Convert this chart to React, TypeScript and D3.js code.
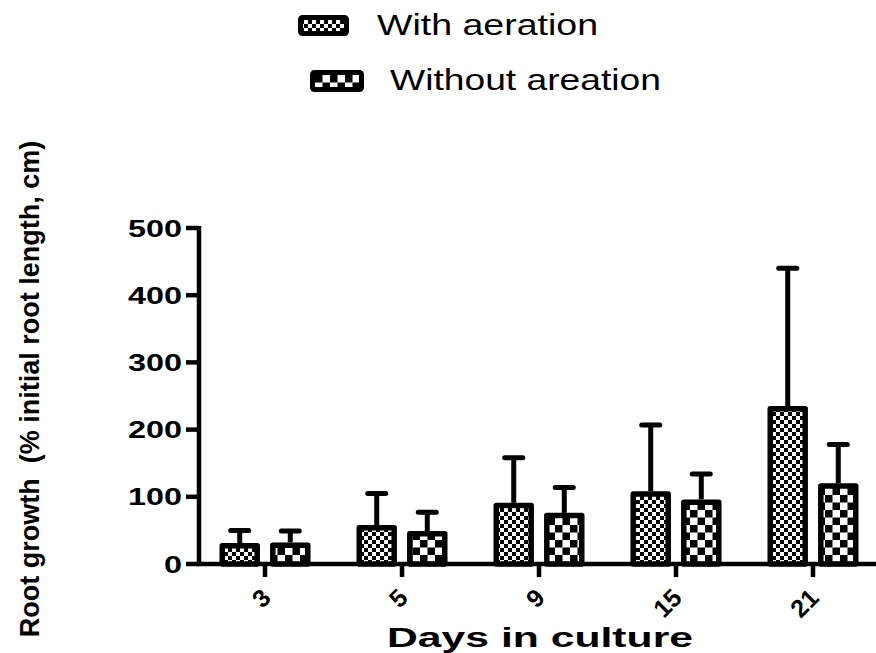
import React from "react";
import * as d3 from "d3";

/* days in culture (x categories) */
const DAYS = ["3", "5", "9", "15", "21"];
const SERIES = ["With aeration", "Without areation"];

/* mean root growth (% initial root length) */
const WITH_MEAN = [27, 54, 87, 104, 231];
const WITHOUT_MEAN = [28, 45, 72, 92, 116];
/* upper error (SD) */
const WITH_SD = [23, 51, 71, 103, 209];
const WITHOUT_SD = [21, 32, 42, 42, 62];

const Y_TICKS = [0, 100, 200, 300, 400, 500];

const W = 876;
const H = 653;
const FONT = "'Liberation Sans', Arial, sans-serif";

export default function App() {
  /* ---- scales ---- */
  const y = d3.scaleLinear().domain([0, 500]).range([564, 228]);
  const x0 = d3.scaleBand<string>().domain(DAYS).range([196.5, 881.5]).padding(0);
  const bw = x0.bandwidth();
  const x1 = d3
    .scaleBand<string>()
    .domain(SERIES)
    .range([bw / 2 - 45.5, bw / 2 + 45.5])
    .paddingInner(0.2);

  const means = [WITH_MEAN, WITHOUT_MEAN];
  const sds = [WITH_SD, WITHOUT_SD];
  const fills = ["url(#fine)", "url(#coarse)"];

  const bars = DAYS.flatMap((day, i) =>
    SERIES.map((s, k) => ({
      day,
      s,
      k,
      x: (x0(day) ?? 0) + (x1(s) ?? 0),
      mean: means[k][i],
      top: means[k][i] + sds[k][i],
    }))
  );

  const sw = 5.5;

  return (
    <svg
      width={W}
      height={H}
      style={{ position: "absolute", left: 0, top: 0, background: "#fff" }}
      fontFamily={FONT}
    >
      <defs>
        <pattern id="fine" patternUnits="userSpaceOnUse" width={8} height={8}>
          <rect width={8} height={8} fill="#fff" />
          <rect width={4} height={4} fill="#000" />
          <rect x={4} y={4} width={4} height={4} fill="#000" />
        </pattern>
        <pattern id="coarse" patternUnits="userSpaceOnUse" width={15} height={15}>
          <rect width={15} height={15} fill="#fff" />
          <rect width={7.5} height={7.5} fill="#000" />
          <rect x={7.5} y={7.5} width={7.5} height={7.5} fill="#000" />
        </pattern>
      </defs>

      {/* ---- legend ---- */}
      <rect x={300.5} y={17.5} width={46} height={16} fill="url(#fine)" stroke="#000" strokeWidth={5} rx={2} />
      <text x={377} y={35} fontSize={29} textLength={221} lengthAdjust="spacingAndGlyphs">
        With aeration
      </text>
      <rect x={312.5} y={72.5} width={49} height={17} fill="url(#coarse)" stroke="#000" strokeWidth={5} rx={2} />
      <text x={390} y={90} fontSize={29} textLength={271} lengthAdjust="spacingAndGlyphs">
        Without areation
      </text>

      {/* ---- bars ---- */}
      {bars.map((b) => (
        <rect
          key={`bar-${b.day}-${b.k}`}
          x={b.x + sw / 2}
          y={y(b.mean)}
          width={x1.bandwidth() - sw}
          height={y(0) - y(b.mean)}
          fill={fills[b.k]}
          stroke="#000"
          strokeWidth={sw}
          strokeLinejoin="round"
        />
      ))}

      {/* ---- error bars (upper only) ---- */}
      {bars.map((b) => {
        const cx = b.x + x1.bandwidth() / 2;
        return (
          <g key={`err-${b.day}-${b.k}`} stroke="#000" strokeWidth={5}>
            <line x1={cx} x2={cx} y1={y(b.mean) - sw / 2} y2={y(b.top)} />
            <line x1={cx - 9} x2={cx + 9} y1={y(b.top)} y2={y(b.top)} strokeLinecap="round" />
          </g>
        );
      })}

      {/* ---- y axis ---- */}
      <line x1={199} x2={199} y1={y(500) - 2} y2={y(0) + 2} stroke="#000" strokeWidth={4.5} />
      {Y_TICKS.map((t) => (
        <g key={`yt-${t}`}>
          <line x1={186} x2={199} y1={y(t)} y2={y(t)} stroke="#000" strokeWidth={4.5} />
          <text
            x={182}
            y={y(t) + 8.5}
            textAnchor="end"
            fontSize={24}
            fontWeight="bold"
            textLength={String(t).length * 18}
            lengthAdjust="spacingAndGlyphs"
          >
            {t}
          </text>
        </g>
      ))}

      {/* ---- x axis ---- */}
      <line x1={197} x2={W} y1={y(0)} y2={y(0)} stroke="#000" strokeWidth={4.5} />
      {DAYS.map((d) => {
        const cx = (x0(d) ?? 0) + bw / 2;
        return (
          <g key={`xt-${d}`}>
            <line x1={cx} x2={cx} y1={y(0)} y2={y(0) + 13} stroke="#000" strokeWidth={4.5} />
            <text
              transform={`translate(${cx - 5},${587}) rotate(-45)`}
              textAnchor="end"
              dy="0.7em"
              fontSize={25}
              fontWeight="bold"
            >
              {d}
            </text>
          </g>
        );
      })}

      {/* ---- axis titles ---- */}
      <text
        x={540}
        y={647}
        textAnchor="middle"
        fontSize={28}
        fontWeight="bold"
        textLength={306}
        lengthAdjust="spacingAndGlyphs"
      >
        Days in culture
      </text>
      <text
        transform="translate(39,389) rotate(-90)"
        textAnchor="middle"
        fontSize={27}
        fontWeight="bold"
        style={{ whiteSpace: "pre" }}
      >
        {"Root growth  (% initial root length, cm)"}
      </text>
    </svg>
  );
}
